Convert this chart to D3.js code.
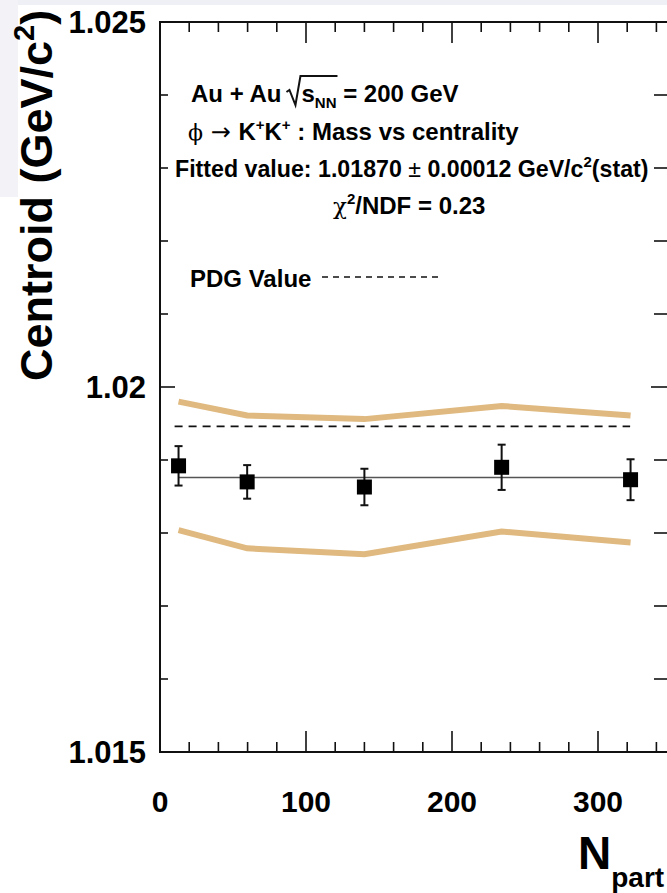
<!DOCTYPE html>
<html>
<head>
<meta charset="utf-8">
<script src="https://cdn.jsdelivr.net/npm/d3@7"></script>
<style>
  html, body { margin: 0; padding: 0; background: #fff; }
  svg { display: block; font-family: "Liberation Sans", Arial, Helvetica, sans-serif; font-weight: bold; }
</style>
</head>
<body>
<div id="chart"></div>
<script>
// Npart of each centrality bin and the fitted phi mass centroid (GeV/c^2)
const nPart = [12.7, 59.7, 140, 234, 322.3];
const centroid = [1.01892, 1.01870, 1.01863, 1.01890, 1.01873];
const statErr = [0.00027, 0.00023, 0.00025, 0.00031, 0.00028];

// systematic band (upper / lower edges)
const sysUpper = [1.01980, 1.01961, 1.01956, 1.01974, 1.01961];
const sysLower = [1.01804, 1.01779, 1.01771, 1.01802, 1.01787];

const fitValue = 1.01876;
const pdgValue = 1.01946;

const xMajor = [0, 100, 200, 300];
const yMajor = [1.015, 1.02, 1.025];
const yLabels = ['1.015', '1.02', '1.025'];

const width = 667, height = 893;
const svg = d3.select('#chart').append('svg')
  .attr('width', width)
  .attr('height', height);

// faint scan background at the top-left corner
svg.append('rect').attr('x', 0).attr('y', 0).attr('width', width).attr('height', 5).attr('fill', '#eef0f5');
svg.append('rect').attr('x', 0).attr('y', 0).attr('width', 18).attr('height', 197).attr('fill', '#f3f3f7');

const x = d3.scaleLinear().domain([0, 350]).range([160, 671]);
const y = d3.scaleLinear().domain([1.015, 1.025]).range([752, 22]);

const xL = x(0), xR = x(350), yT = y(1.025), yB = y(1.015);

// frame
svg.append('rect')
  .attr('x', xL).attr('y', yT)
  .attr('width', xR - xL).attr('height', yB - yT)
  .attr('fill', 'none').attr('stroke', '#111').attr('stroke-width', 2);

// ticks, pointing inward on all four sides
const ticks = svg.append('g').attr('stroke', '#111').attr('stroke-width', 1.6);
d3.range(0, 351, 20).forEach(v => {
  const major = v % 100 === 0;
  const len = major ? 21 : 10;
  ticks.append('line').attr('x1', x(v)).attr('x2', x(v)).attr('y1', yB).attr('y2', yB - len);
  ticks.append('line').attr('x1', x(v)).attr('x2', x(v)).attr('y1', yT).attr('y2', yT + len);
});
d3.range(0, 11).forEach(i => {
  const v = 1.015 + i * 0.001;
  const major = i % 5 === 0;
  ticks.append('line').attr('x1', xL).attr('x2', xL + (major ? 15 : 8)).attr('y1', y(v)).attr('y2', y(v));
  ticks.append('line').attr('x1', xR).attr('x2', xR - (major ? 20 : 17)).attr('y1', y(v)).attr('y2', y(v));
});

// tick labels
svg.append('g').selectAll('text').data(xMajor).join('text')
  .attr('x', d => x(d)).attr('y', 812)
  .attr('text-anchor', 'middle').attr('font-size', 30)
  .text(d => d);

svg.append('g').selectAll('text').data(yMajor).join('text')
  .attr('x', 146).attr('y', d => y(d) + 11)
  .attr('text-anchor', 'end').attr('font-size', 31)
  .text((d, i) => yLabels[i]);

// axis titles
const yt = svg.append('text')
  .attr('transform', 'translate(52,381) rotate(-90)')
  .attr('font-size', 45);
yt.append('tspan').text('Centroid (GeV/c');
yt.append('tspan').attr('font-size', 29).attr('dy', -18).text('2');
yt.append('tspan').attr('dy', 18).text(')');

const xt = svg.append('text').attr('x', 578).attr('y', 869).attr('font-size', 46);
xt.append('tspan').text('N');
xt.append('tspan').attr('font-size', 28).attr('dy', 18).text('part');

// systematic band edges
const sysLine = d3.line().x((d, i) => x(nPart[i])).y(d => y(d));
[sysUpper, sysLower].forEach(s => {
  svg.append('path').datum(s)
    .attr('d', sysLine)
    .attr('fill', 'none').attr('stroke', '#dfb97f').attr('stroke-width', 6);
});

// PDG value
svg.append('line')
  .attr('x1', x(10)).attr('x2', x(322))
  .attr('y1', y(pdgValue)).attr('y2', y(pdgValue))
  .attr('stroke', '#111').attr('stroke-width', 1.6).attr('stroke-dasharray', '8,6');

// constant fit
svg.append('line')
  .attr('x1', x(nPart[0])).attr('x2', x(nPart[nPart.length - 1]))
  .attr('y1', y(fitValue)).attr('y2', y(fitValue))
  .attr('stroke', '#555').attr('stroke-width', 1.6);

// data points with stat errors
const pts = svg.append('g').selectAll('g').data(centroid).join('g');
pts.append('line')
  .attr('x1', (d, i) => x(nPart[i])).attr('x2', (d, i) => x(nPart[i]))
  .attr('y1', (d, i) => y(d + statErr[i])).attr('y2', (d, i) => y(d - statErr[i]))
  .attr('stroke', '#111').attr('stroke-width', 2);
[1, -1].forEach(sgn => {
  pts.append('line')
    .attr('x1', (d, i) => x(nPart[i]) - 4).attr('x2', (d, i) => x(nPart[i]) + 4)
    .attr('y1', (d, i) => y(d + sgn * statErr[i])).attr('y2', (d, i) => y(d + sgn * statErr[i]))
    .attr('stroke', '#111').attr('stroke-width', 2);
});
pts.append('rect')
  .attr('x', (d, i) => x(nPart[i]) - 7.5).attr('y', d => y(d) - 7.5)
  .attr('width', 15).attr('height', 15).attr('fill', '#000');

// annotations
const fs = 24, sub = 15;
const ann = svg.append('g').attr('font-size', fs);

// Au + Au sqrt(s_NN) = 200 GeV, radical drawn as a path
const t1a = ann.append('text').attr('x', 191).attr('y', 102).text('Au + Au');
const rx = 191 + t1a.node().getComputedTextLength() + 5;
const t1b = ann.append('text').attr('x', rx + 15).attr('y', 102);
t1b.append('tspan').text('s');
t1b.append('tspan').attr('font-size', sub).attr('dy', 6).text('NN');
const barEnd = rx + 15 + t1b.node().getComputedTextLength() + 1;
t1b.append('tspan').attr('dy', -6).text(' = 200 GeV');
ann.append('path')
  .attr('d', `M${rx},92 L${rx + 3},90 L${rx + 9},105 L${rx + 14},76 L${barEnd},76`)
  .attr('fill', 'none').attr('stroke', '#111').attr('stroke-width', 2);

const t2 = ann.append('text').attr('x', 188).attr('y', 140);
t2.append('tspan').attr('font-weight', 'normal').attr('font-family', 'DejaVu Serif, serif').attr('font-size', 22).text('\u03D5');
t2.append('tspan').attr('font-weight', 'normal').attr('font-family', 'DejaVu Sans, sans-serif').text(' \u2192 ');
t2.append('tspan').text('K');
t2.append('tspan').attr('font-size', sub).attr('dy', -10).text('+');
t2.append('tspan').attr('dy', 10).text('K');
t2.append('tspan').attr('font-size', sub).attr('dy', -10).text('+');
t2.append('tspan').attr('dy', 10).text(' : Mass vs centrality');

const t3 = ann.append('text').attr('x', 175).attr('y', 177).attr('font-size', 23.2);
t3.append('tspan').text('Fitted value: 1.01870 ');
t3.append('tspan').attr('font-weight', 'normal').text('\u00B1');
t3.append('tspan').text(' 0.00012 GeV/c');
t3.append('tspan').attr('font-size', sub).attr('dy', -10).text('2');
t3.append('tspan').attr('dy', 10).text('(stat)');

const t4 = ann.append('text').attr('x', 333).attr('y', 214);
t4.append('tspan').attr('font-weight', 'normal').attr('font-family', 'DejaVu Serif, serif').attr('font-size', 23).text('\u03C7');
t4.append('tspan').attr('font-size', sub).attr('dy', -10).text('2');
t4.append('tspan').attr('dy', 10).text('/NDF = 0.23');

ann.append('text').attr('x', 190).attr('y', 287).text('PDG Value');
ann.append('line')
  .attr('x1', 322).attr('x2', 440).attr('y1', 277).attr('y2', 277)
  .attr('stroke', '#111').attr('stroke-width', 1.4).attr('stroke-dasharray', '6,5');
</script>
</body>
</html>
